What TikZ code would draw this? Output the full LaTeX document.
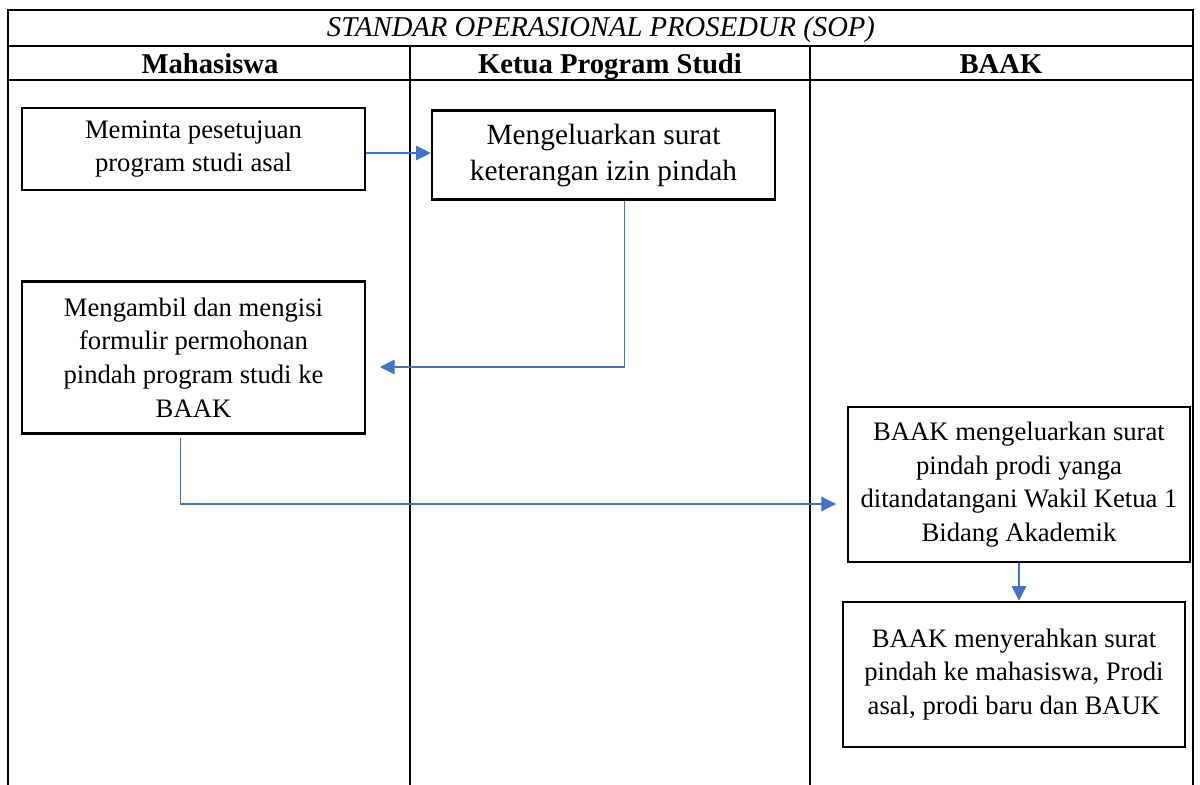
\documentclass[tikz,border=0pt]{standalone}
\usepackage{fontspec}
\setmainfont{Liberation Serif}
\usetikzlibrary{arrows.meta}
\definecolor{flowblue}{HTML}{4472C4}
\tikzset{
  grid/.style={line width=1.6pt, black},
  stepbox/.style={draw=black, line width=2pt, rectangle, align=center, inner sep=0pt,
    font=\fontsize{20}{25.3}\selectfont},
  conn/.style={draw=flowblue, line width=0.9pt,
    -{Triangle[length=11pt,width=11pt]}},
  headtext/.style={anchor=base, font=\fontsize{21.5}{26}\selectfont\bfseries},
}
\begin{document}
\begin{tikzpicture}[x=0.75pt,y=-0.75pt]
\useasboundingbox (0,0) rectangle (1200,785);
\fill[white] (0,0) rectangle (1200,785);

% table frame and swimlanes
\draw[grid] (8,785) -- (8,10) -- (1193,10) -- (1193,785);
\draw[grid] (8,46) -- (1193,46);
\draw[grid] (8,80) -- (1193,80);
\draw[grid] (410,46) -- (410,785);
\draw[grid] (810,46) -- (810,785);

\node[anchor=base, font=\fontsize{21.5}{26}\selectfont\itshape] (title) at (601,36.5)
  {STANDAR OPERASIONAL PROSEDUR (SOP)};
\node[headtext] (h1) at (210,73.5) {Mahasiswa};
\node[headtext] (h2) at (610,73.5) {Ketua Program Studi};
\node[headtext] (h3) at (1001,73.5) {BAAK};

% process steps
\node[stepbox, minimum width=343*0.75pt, minimum height=82*0.75pt] (A) at (193.5,149)
  {Meminta pesetujuan\\program studi asal};
\node[stepbox, minimum width=343*0.75pt, minimum height=89*0.75pt,
  font=\fontsize{22}{27}\selectfont] (B) at (603.5,155)
  {Mengeluarkan surat\\keterangan izin pindah};
\node[stepbox, minimum width=343*0.75pt, minimum height=152*0.75pt] (C) at (193.5,357.5)
  {Mengambil dan mengisi\\formulir permohonan\\pindah program studi ke\\BAAK};
\node[stepbox, minimum width=342*0.75pt, minimum height=155*0.75pt] (D) at (1019,484.5)
  {BAAK mengeluarkan surat\\pindah prodi yanga\\ditandatangani Wakil Ketua 1\\Bidang Akademik};
\node[stepbox, minimum width=342*0.75pt, minimum height=145*0.75pt] (E) at (1014,674.5)
  {BAAK menyerahkan surat\\pindah ke mahasiswa, Prodi\\asal, prodi baru dan BAUK};

% connectors
\coordinate (cIn) at (380,367);
\coordinate (dIn) at (836,504);
\draw[conn] ([yshift=-3pt]A.east) -- ([yshift=-3pt]A.east -| B.west);
\draw[conn] ([shift={(21,0)}]B.south) |- (cIn);
\draw[conn] ([shift={(-13,3)}]C.south) |- (dIn);
\draw[conn] (D.south) -- (D.south |- E.north);
\end{tikzpicture}
\end{document}
